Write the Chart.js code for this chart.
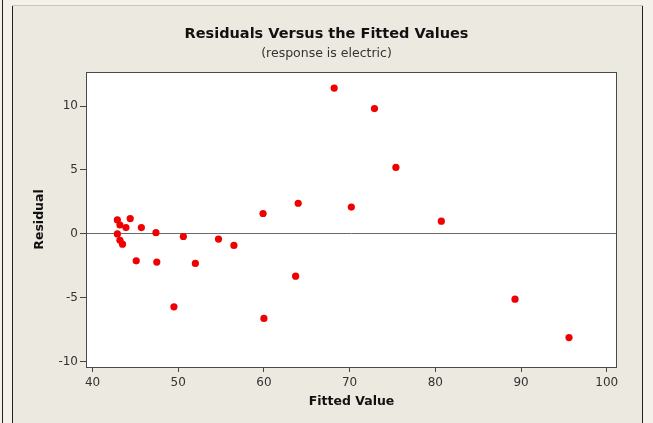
<!DOCTYPE html>
<html>
<head>
<meta charset="utf-8">
<script src="https://cdn.jsdelivr.net/npm/chart.js@4/dist/chart.umd.min.js"></script>
<style>
  html, body { margin: 0; padding: 0; background: #f3f1ea; }
  #wrap { width: 653px; height: 423px; position: relative; }
</style>
</head>
<body>
<div id="wrap"><canvas id="residChart"></canvas></div>
<script>
// Fitted values (x) and residuals (y)
const fittedValues = [
    42.9, 44.4, 43.2, 43.9, 45.7, 42.9, 47.4, 50.6, 54.7, 56.5,
    43.2, 43.5, 45.1, 47.5, 52.0, 63.7, 49.5, 60.0, 59.9, 64.0,
    70.2, 68.2, 72.9, 75.4, 80.7, 89.3, 95.6
];
const residuals = [
    1.1, 1.2, 0.7, 0.5, 0.5, 0.0, 0.1, -0.2, -0.4, -0.9,
    -0.5, -0.8, -2.1, -2.2, -2.3, -3.3, -5.7, -6.6, 1.6, 2.4,
    2.1, 11.4, 9.8, 5.2, 1.0, -5.1, -8.1
];

// Tick labels
const xTickValues = [40, 50, 60, 70, 80, 90, 100];
const yTickValues = [-10, -5, 0, 5, 10];

const labelFont = "'DejaVu Sans', sans-serif";

//Bakgrund, panel och ram runt ritytan.
const panelPlugin = {
    id: "panel",
    beforeDraw(chart) {
        const { ctx, width, height, chartArea } = chart;
        ctx.save();
        ctx.fillStyle = "#f3f1ea";
        ctx.fillRect(0, 0, width, height);
        ctx.fillStyle = "#ece9e0";
        ctx.fillRect(12, 5, 630, height - 5);
        ctx.fillStyle = "#222";
        ctx.fillRect(2, 0, 1, height);
        ctx.fillRect(12, 5, 1, height - 5);
        ctx.fillRect(642, 5, 1, height - 5);
        ctx.fillStyle = "#c9c6bd";
        ctx.fillRect(12, 5, 631, 1);
        ctx.fillStyle = "#ffffff";
        ctx.fillRect(chartArea.left, chartArea.top,
            chartArea.right - chartArea.left, chartArea.bottom - chartArea.top);
        ctx.restore();
    },
    afterDraw(chart) {
        const { ctx, chartArea } = chart;
        ctx.save();
        ctx.strokeStyle = "#4a4a4a";
        ctx.lineWidth = 1;
        ctx.strokeRect(chartArea.left + 0.5, chartArea.top + 0.5,
            chartArea.right - chartArea.left - 1, chartArea.bottom - chartArea.top);
        ctx.restore();
    }
};

function createScatter() {
    const ctx = document.getElementById("residChart");

    new Chart(ctx, {
        type: "scatter",
        data: {
            datasets: [{
                label: "Residual",
                data: fittedValues.map((x, i) => ({ x: x, y: residuals[i] })),
                backgroundColor: "rgb(240, 0, 0)",
                borderWidth: 0,
                pointRadius: 3.6,
                pointHoverRadius: 3.6
            }]
        },
        options: {
            responsive: true,
            maintainAspectRatio: false,
            devicePixelRatio: 1,
            animation: false,
            layout: {
                padding: { left: 36, right: 36, top: 0, bottom: 0 }
            },
            plugins: {
                legend: { display: false },
                tooltip: { enabled: false },
                title: {
                    display: true,
                    text: "Residuals Versus the Fitted Values",
                    color: "#111",
                    font: { family: labelFont, size: 14.5, weight: "bold" },
                    padding: { top: 26, bottom: 1 }
                },
                subtitle: {
                    display: true,
                    text: "(response is electric)",
                    color: "#333",
                    font: { family: labelFont, size: 12.5 },
                    padding: { top: 2, bottom: 10.6 }
                }
            },
            scales: {
                x: {
                    type: "linear",
                    min: 39.24,
                    max: 101.2,
                    afterFit: scale => { scale.height = 56; },
                    afterBuildTicks: axis => { axis.ticks = xTickValues.map(v => ({ value: v })); },
                    grid: {
                        drawOnChartArea: false,
                        tickColor: "#444",
                        tickLength: 5
                    },
                    border: { display: false },
                    ticks: {
                        color: "#333",
                        font: { family: labelFont, size: 12 },
                        padding: 4,
                        maxRotation: 0
                    },
                    title: {
                        display: true,
                        text: "Fitted Value",
                        color: "#111",
                        font: { family: labelFont, size: 12.5, weight: "bold" },
                        padding: { top: 0, bottom: 14 }
                    }
                },
                y: {
                    type: "linear",
                    min: -10.4,
                    max: 12.66,
                    afterFit: scale => { scale.width = 50; },
                    afterBuildTicks: axis => { axis.ticks = yTickValues.map(v => ({ value: v })); },
                    grid: {
                        color: c => (c.tick && c.tick.value === 0) ? "#6a6a6a" : "rgba(0,0,0,0)",
                        tickColor: "#444",
                        tickLength: 6
                    },
                    border: { display: false },
                    ticks: {
                        color: "#333",
                        font: { family: labelFont, size: 12 },
                        padding: 2
                    },
                    title: {
                        display: true,
                        text: "Residual",
                        color: "#111",
                        font: { family: labelFont, size: 12.5, weight: "bold" },
                        padding: { top: -3.5, bottom: 0 }
                    }
                }
            }
        },
        plugins: [panelPlugin]
    });
}

createScatter();
</script>
</body>
</html>
